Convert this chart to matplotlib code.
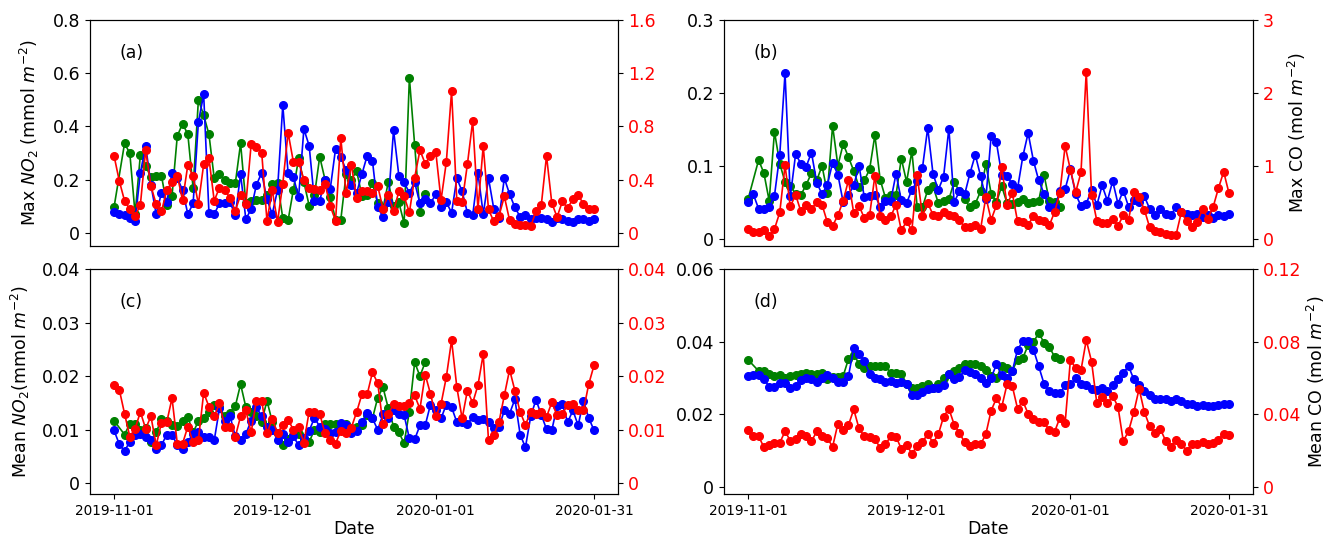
import matplotlib
matplotlib.use("Agg")
import matplotlib.pyplot as plt
import pandas as pd

dates = pd.date_range("2019-11-01", "2020-01-31")
green_dates = pd.to_datetime(["2019-11-01"]).append(pd.date_range("2019-11-03", "2019-12-30"))

# (a) Max NO2 (mmol m-2)
a_blue = [0.079,0.070,0.065,0.055,0.045,0.225,0.327,0.180,0.070,0.150,
          0.114,0.225,0.206,0.160,0.070,0.110,0.416,0.520,0.075,0.070,
          0.110,0.110,0.115,0.065,0.220,0.050,0.090,0.180,0.225,0.125,
          0.070,0.160,0.480,0.225,0.210,0.135,0.390,0.327,0.120,0.120,
          0.200,0.165,0.315,0.285,0.235,0.180,0.150,0.220,0.290,0.270,
          0.095,0.060,0.115,0.386,0.215,0.190,0.150,0.190,0.110,0.125,
          0.110,0.145,0.095,0.115,0.075,0.205,0.155,0.075,0.065,0.225,
          0.070,0.205,0.090,0.055,0.205,0.145,0.095,0.060,0.065,0.050,
          0.055,0.055,0.050,0.040,0.055,0.050,0.045,0.040,0.050,0.050,
          0.043,0.050]
a_green = [0.095,
           0.336,0.299,0.070,0.293,0.250,0.210,0.215,0.214,
           0.105,0.139,0.364,0.410,0.370,0.167,0.500,0.442,0.370,0.205,
           0.220,0.200,0.188,0.186,0.336,0.110,0.118,0.124,0.124,0.143,
           0.183,0.186,0.055,0.046,0.161,0.280,0.190,0.102,0.140,0.286,
           0.200,0.136,0.049,0.049,0.220,0.200,0.232,0.139,0.143,0.186,
           0.110,0.092,0.190,0.100,0.114,0.036,0.583,0.330,0.077,0.146]
a_red = [0.58,0.39,0.24,0.175,0.125,0.21,0.62,0.35,0.215,0.16,
         0.32,0.378,0.43,0.245,0.51,0.423,0.215,0.515,0.56,0.24,
         0.34,0.32,0.26,0.165,0.285,0.215,0.665,0.643,0.603,0.09,
         0.32,0.08,0.368,0.753,0.535,0.535,0.398,0.335,0.33,0.32,
         0.368,0.2,0.09,0.71,0.298,0.51,0.26,0.31,0.315,0.298,
         0.35,0.18,0.285,0.16,0.31,0.273,0.152,0.415,0.62,0.52,
         0.58,0.61,0.245,0.53,1.065,0.235,0.23,0.515,0.84,0.177,
         0.653,0.175,0.085,0.128,0.273,0.093,0.065,0.06,0.06,0.048,
         0.16,0.205,0.578,0.223,0.118,0.235,0.185,0.253,0.285,0.215,
         0.177,0.177]

# (b) Max CO (mol m-2)
b_blue = [0.050,0.061,0.041,0.041,0.043,0.059,0.115,0.227,0.058,0.116,
          0.103,0.099,0.118,0.077,0.061,0.074,0.104,0.088,0.050,0.060,
          0.073,0.100,0.057,0.058,0.060,0.044,0.052,0.052,0.089,0.053,
          0.049,0.067,0.079,0.097,0.152,0.089,0.067,0.085,0.151,0.050,
          0.065,0.061,0.090,0.115,0.086,0.055,0.141,0.132,0.088,0.086,
          0.075,0.069,0.113,0.145,0.107,0.080,0.062,0.044,0.043,0.065,
          0.068,0.095,0.061,0.045,0.048,0.067,0.046,0.073,0.052,0.079,
          0.048,0.066,0.044,0.053,0.050,0.058,0.041,0.032,0.041,0.034,
          0.032,0.044,0.036,0.034,0.032,0.034,0.030,0.032,0.029,0.032,
          0.031,0.034]
b_green = [0.054,
           0.108,0.090,0.052,0.147,0.103,0.078,0.072,0.062,
           0.060,0.074,0.090,0.080,0.100,0.063,0.155,0.100,0.130,0.112,
           0.093,0.071,0.080,0.095,0.142,0.081,0.056,0.060,0.060,0.110,
           0.078,0.120,0.044,0.043,0.067,0.072,0.049,0.052,0.054,0.078,
           0.065,0.054,0.043,0.048,0.065,0.102,0.062,0.050,0.072,0.049,
           0.048,0.051,0.054,0.049,0.050,0.052,0.088,0.052,0.050,0.044]
b_red = [0.137,0.087,0.087,0.123,0.032,0.132,0.361,1.005,0.443,0.603,
         0.374,0.466,0.411,0.498,0.466,0.228,0.178,0.32,0.521,0.80,
         0.352,0.452,0.283,0.32,0.863,0.306,0.251,0.306,0.466,0.114,
         0.237,0.114,0.868,0.315,0.489,0.329,0.306,0.361,0.32,0.315,
         0.251,0.16,0.16,0.192,0.132,0.571,0.26,0.457,0.982,0.466,
         0.626,0.237,0.228,0.192,0.306,0.26,0.237,0.183,0.365,0.626,
         1.274,0.945,0.639,0.909,2.292,0.603,0.246,0.215,0.215,0.269,
         0.178,0.32,0.26,0.639,0.566,0.397,0.155,0.10,0.087,0.068,
         0.046,0.055,0.365,0.237,0.16,0.228,0.406,0.274,0.434,0.69,
         0.918,0.626]

# (c) Mean NO2 (mmol m-2)
c_blue = [.0099,.0073,.0060,.0078,.0090,.0092,.0086,.0080,.0064,.0071,
          .0091,.0091,.0071,.0064,.0078,.0092,.0096,.0086,.0086,.0080,
          .0140,.0117,.0125,.0088,.0080,.0092,.0117,.0142,.0125,.0105,
          .0100,.0081,.0092,.0077,.0088,.0071,.0085,.0098,.0122,.0106,
          .0101,.0094,.0096,.0113,.0108,.0094,.0097,.0114,.0132,.0121,
          .0100,.0129,.0122,.0136,.0130,.0127,.0084,.0082,.0108,.0108,
          .0147,.0136,.0121,.0147,.0142,.0114,.0114,.0110,.0124,.0119,
          .0120,.0114,.0103,.0105,.0136,.0130,.0157,.0091,.0067,.0125,
          .0156,.0128,.0101,.0099,.0144,.0148,.0114,.0136,.0108,.0154,
          .0122,.0099]
c_green = [.0117,
           .0091,.0111,.0111,.0100,.0104,.0077,.0095,.0120,
           .0116,.0108,.0107,.0117,.0123,.0095,.0116,.0122,.0133,.0147,
           .0142,.0125,.0132,.0144,.0185,.0142,.0133,.0125,.0115,.0154,
           .0115,.0094,.0072,.0083,.0091,.0092,.0081,.0077,.0100,.0096,
           .0111,.0111,.0111,.0111,.0111,.0103,.0106,.0108,.0128,.0121,
           .0160,.0179,.0140,.0106,.0095,.0075,.0134,.0226,.0200,.0226]
c_red = [.0184,.0175,.0130,.0087,.0102,.0133,.0102,.0125,.0071,.0113,
         .0114,.0159,.0074,.0074,.0106,.0077,.0081,.0169,.0143,.0125,
         .0149,.0106,.0106,.0087,.0125,.0136,.0095,.0154,.0154,.0093,
         .0120,.0094,.0109,.0119,.0100,.0105,.0076,.0134,.0134,.0130,
         .0093,.0080,.0074,.0098,.0093,.0104,.0133,.0166,.0166,.0207,
         .0187,.0110,.0129,.0148,.0145,.0145,.0150,.0164,.0139,.0203,
         .0167,.0125,.0148,.0198,.0267,.0179,.0121,.0173,.0150,.0183,
         .0241,.0080,.0090,.0115,.0164,.0212,.0173,.0133,.0109,.0133,
         .0129,.0133,.0124,.0151,.0127,.0129,.0147,.0148,.0136,.0136,
         .0185,.0220]

# (d) Mean CO (mol m-2)
d_blue = [.0305,.0308,.0308,.0298,.0275,.0275,.0286,.0286,.0271,.0277,
          .0294,.0299,.0298,.0290,.0300,.0307,.0299,.0290,.0289,.0305,
          .0382,.0367,.0347,.0312,.0300,.0296,.0290,.0291,.0286,.0290,
          .0282,.0254,.0254,.0262,.0268,.0271,.0271,.0280,.0312,.0296,
          .0302,.0321,.0317,.0310,.0300,.0286,.0300,.0337,.0307,.0300,
          .0318,.0378,.0401,.0401,.0378,.0332,.0284,.0263,.0257,.0257,
          .0279,.0282,.0299,.0284,.0279,.0268,.0266,.0273,.0263,.0279,
          .0298,.0314,.0332,.0296,.0279,.0263,.0252,.0243,.0243,.0243,
          .0237,.0242,.0236,.0229,.0227,.0222,.0225,.0222,.0222,.0224,
          .0227,.0229]
d_green = [.0350,
           .0319,.0319,.0310,.0305,.0307,.0300,.0305,.0308,
           .0310,.0314,.0311,.0311,.0313,.0296,.0303,.0303,.0305,.0352,
           .0364,.0339,.0326,.0332,.0332,.0332,.0332,.0314,.0314,.0311,
           .0284,.0271,.0272,.0277,.0282,.0272,.0282,.0300,.0311,.0320,
           .0328,.0337,.0337,.0339,.0334,.0323,.0305,.0300,.0332,.0326,
           .0320,.0350,.0355,.0390,.0398,.0424,.0397,.0386,.0358,.0352]
d_red = [.0310,.0279,.0278,.0218,.0230,.0242,.0242,.0305,.0254,.0263,
         .0292,.0279,.0250,.0305,.0279,.0269,.0220,.0347,.0315,.0340,
         .0426,.0321,.0278,.0276,.0263,.0214,.0233,.0278,.0276,.0209,
         .0230,.0183,.0224,.0245,.0292,.0242,.0288,.0386,.0430,.0343,
         .0296,.0245,.0226,.0236,.0233,.0290,.0420,.0487,.0439,.0564,
         .0555,.0430,.0472,.0402,.0376,.0356,.0358,.0310,.0302,.0380,
         .0352,.0699,.0653,.0642,.0808,.0690,.0460,.0495,.0460,.0500,
         .0441,.0251,.0306,.0411,.0540,.0411,.0333,.0296,.0320,.0254,
         .0220,.0260,.0236,.0199,.0233,.0238,.0245,.0238,.0242,.0260,
         .0292,.0283]

xtick_dates = pd.to_datetime(["2019-11-01", "2019-12-01", "2020-01-01", "2020-01-31"])
xtick_labels = ["2019-11-01", "2019-12-01", "2020-01-01", "2020-01-31"]

panels = [
    dict(label="(a)", blue=a_blue, green=a_green, red=a_red,
         ylim=(-0.05, 0.8), yticks=[0, 0.2, 0.4, 0.6, 0.8], yticklabels=["0", "0.2", "0.4", "0.6", "0.8"],
         rylim=(-0.1, 1.6), ryticks=[0, 0.4, 0.8, 1.2, 1.6], ryticklabels=["0", "0.4", "0.8", "1.2", "1.6"],
         ylabel="Max $NO_2$ (mmol $m^{-2}$)", ylabel_x=-0.092, rylabel=None, rylabel_x=None,
         rect=[90/1328, 1-246/541, 528/1328, 226/541], bottom=False),
    dict(label="(b)", blue=b_blue, green=b_green, red=b_red,
         ylim=(-0.01, 0.3), yticks=[0, 0.1, 0.2, 0.3], yticklabels=["0", "0.1", "0.2", "0.3"],
         rylim=(-0.1, 3), ryticks=[0, 1, 2, 3], ryticklabels=["0", "1", "2", "3"],
         ylabel=None, ylabel_x=None, rylabel="Max CO (mol $m^{-2}$)", rylabel_x=1.062,
         rect=[724/1328, 1-246/541, 529/1328, 226/541], bottom=False),
    dict(label="(c)", blue=c_blue, green=c_green, red=c_red,
         ylim=(-0.002, 0.04), yticks=[0, 0.01, 0.02, 0.03, 0.04], yticklabels=["0", "0.01", "0.02", "0.03", "0.04"],
         rylim=(-0.002, 0.04), ryticks=[0, 0.01, 0.02, 0.03, 0.04], ryticklabels=["0", "0.01", "0.02", "0.03", "0.04"],
         ylabel="Mean $NO_2$(mmol $m^{-2}$)", ylabel_x=-0.11, rylabel=None, rylabel_x=None,
         rect=[90/1328, 1-494/541, 528/1328, 225/541], bottom=True),
    dict(label="(d)", blue=d_blue, green=d_green, red=d_red,
         ylim=(-0.002, 0.06), yticks=[0, 0.02, 0.04, 0.06], yticklabels=["0", "0.02", "0.04", "0.06"],
         rylim=(-0.004, 0.12), ryticks=[0, 0.04, 0.08, 0.12], ryticklabels=["0", "0.04", "0.08", "0.12"],
         ylabel=None, ylabel_x=None, rylabel="Mean CO (mol $m^{-2}$)", rylabel_x=1.099,
         rect=[724/1328, 1-494/541, 529/1328, 225/541], bottom=True),
]

fig = plt.figure(figsize=(13.28, 5.41), dpi=100)
ms = 5.5
lw = 1.2
for p in panels:
    ax = fig.add_axes(p["rect"])
    ax.plot(green_dates, p["green"], color="g", marker="o", ms=ms, lw=lw)
    ax.plot(dates, p["blue"], color="b", marker="o", ms=ms, lw=lw)
    ax.set_ylim(*p["ylim"])
    ax.set_yticks(p["yticks"])
    ax.set_yticklabels(p["yticklabels"], fontsize=12.5)
    ax.set_xlim(dates[0] - pd.Timedelta(days=4.55), dates[-1] + pd.Timedelta(days=4.55))
    if p["ylabel"]:
        ax.set_ylabel(p["ylabel"], fontsize=12.5)
        ax.yaxis.set_label_coords(p["ylabel_x"], 0.5)
    ax.text(0.055, 0.855, p["label"], transform=ax.transAxes, fontsize=12.5, va="center", ha="left")
    if p["bottom"]:
        ax.set_xticks(xtick_dates)
        ax.set_xticklabels(xtick_labels, fontsize=9.8)
        ax.set_xlabel("Date", fontsize=12.5, labelpad=2)
    else:
        ax.set_xticks([])
    ax2 = ax.twinx()
    ax2.plot(dates, p["red"], color="r", marker="o", ms=ms, lw=lw)
    ax2.set_ylim(*p["rylim"])
    ax2.set_yticks(p["ryticks"])
    ax2.set_yticklabels(p["ryticklabels"], fontsize=12.5, color="r")
    if p["rylabel"]:
        ax2.set_ylabel(p["rylabel"], fontsize=12.5)
        ax2.yaxis.set_label_coords(p["rylabel_x"], 0.5)
    ax2.set_xlim(ax.get_xlim())

fig.savefig("out.png", dpi=100)
